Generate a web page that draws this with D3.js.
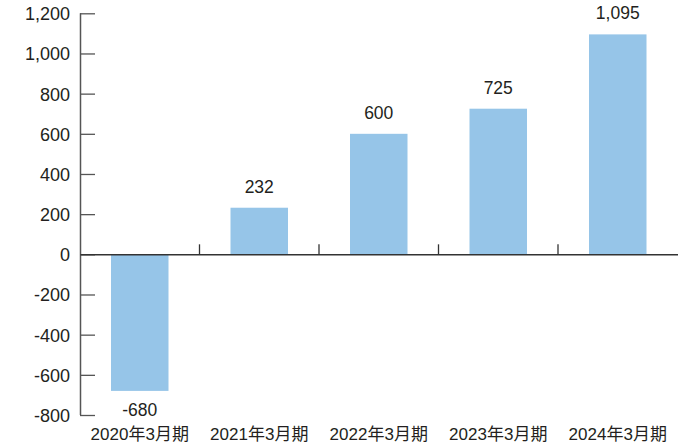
<!DOCTYPE html>
<html><head><meta charset="utf-8">
<script src="https://cdn.jsdelivr.net/npm/d3@7"></script>
<style>
body{margin:0;background:#fff;}
svg{display:block;}
text{font-family:"Liberation Sans","Noto Sans CJK JP",sans-serif;fill:#231f20;}
</style></head>
<body><svg id="c" width="690" height="444"></svg>
<script>
const categories = ["2020年3月期","2021年3月期","2022年3月期","2023年3月期","2024年3月期"];
const values = [-680, 232, 600, 725, 1095];
const yTicks = [-800,-600,-400,-200,0,200,400,600,800,1000,1200];

(function(){
const svg = d3.select("#c");
const mLeft = 80, mRight = 677.5, mTop = 13.3, mBottom = 415;
const x = d3.scaleBand().domain(categories).range([mLeft, mRight]).paddingInner(0).paddingOuter(0);
const y = d3.scaleLinear().domain([-800, 1200]).range([mBottom, mTop]);
const barW = 57.5;
const fmt = d => d3.format(",")(d).replace("\u2212", "-");

// bars
svg.append("g").selectAll("rect").data(values).join("rect")
  .attr("x", (d,i) => x(categories[i]) + x.bandwidth()/2 - barW/2)
  .attr("width", barW)
  .attr("y", d => y(Math.max(0,d)))
  .attr("height", d => Math.abs(y(d) - y(0)))
  .attr("fill", "#96c5e8");

// y axis
const yAxis = svg.append("g").attr("transform", `translate(${mLeft},0)`)
  .call(d3.axisRight(y).tickValues(yTicks).tickSize(15).tickFormat(fmt));
yAxis.select(".domain").attr("stroke","#555").attr("stroke-width",1.5).attr("d", `M0.5,${mTop}V${mBottom}`);
yAxis.selectAll(".tick line").attr("stroke","#555").attr("stroke-width",1.3);
yAxis.selectAll(".tick text").attr("x", -10).attr("text-anchor","end")
  .style("font-size","18px").attr("fill","#231f20").attr("dy","0.36em");

// zero line with band ticks
const xAxis = svg.append("g").attr("transform", `translate(0,${y(0)})`)
  .call(d3.axisTop(x).tickSize(0).tickFormat(""));
xAxis.select(".domain").attr("stroke","#333").attr("stroke-width",1.5);
xAxis.selectAll(".tick").remove();
const bounds = categories.slice(1).map(c => x(c));
svg.append("g").selectAll("line").data(bounds).join("line")
  .attr("x1", d => d).attr("x2", d => d)
  .attr("y1", y(0) - 10).attr("y2", y(0))
  .attr("stroke","#333").attr("stroke-width",1.3);

// x labels
svg.append("g").selectAll("text").data(categories).join("text")
  .attr("x", d => x(d) + x.bandwidth()/2)
  .attr("y", 440)
  .attr("text-anchor","middle")
  .style("font-size","17px")
  .text(d => d);

// value labels
svg.append("g").selectAll("text").data(values).join("text")
  .attr("x", (d,i) => x(categories[i]) + x.bandwidth()/2)
  .attr("y", d => d >= 0 ? y(d) - 15 : y(d) + 25)
  .attr("text-anchor","middle")
  .style("font-size","17.5px")
  .text(d => fmt(d));
})();
</script></body></html>
